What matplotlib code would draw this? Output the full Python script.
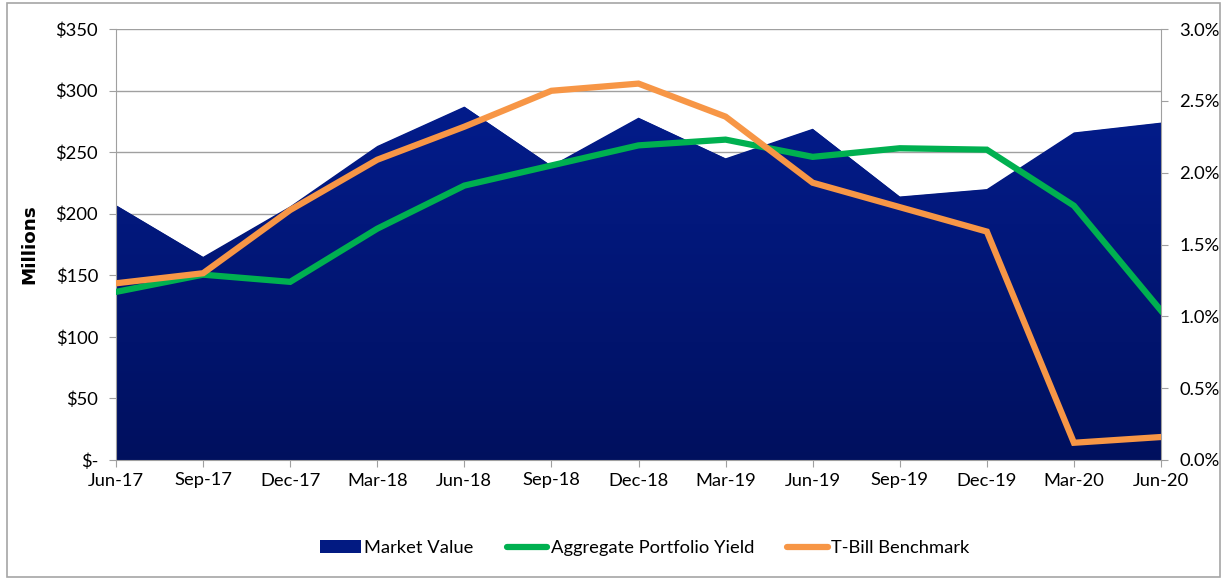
import matplotlib
matplotlib.use("Agg")
import matplotlib.pyplot as plt
import numpy as np
from matplotlib.patches import Rectangle, Patch
from matplotlib.lines import Line2D
from matplotlib.ticker import FuncFormatter, MultipleLocator
from matplotlib.colors import LinearSegmentedColormap

plt.rcParams['font.family'] = ['Lato', 'DejaVu Sans']

quarters = ["Jun-17", "Sep-17", "Dec-17", "Mar-18", "Jun-18", "Sep-18", "Dec-18",
            "Mar-19", "Jun-19", "Sep-19", "Dec-19", "Mar-20", "Jun-20"]
market_value = [207, 165, 206, 255, 287, 239, 278, 245, 269, 214, 220, 266, 274]
portfolio_yield = [1.17, 1.29, 1.24, 1.61, 1.91, 2.05, 2.19, 2.23, 2.11, 2.17, 2.16, 1.77, 1.04]
tbill = [1.23, 1.30, 1.74, 2.09, 2.32, 2.57, 2.62, 2.39, 1.93, 1.76, 1.59, 0.12, 0.16]

NAVY = "#021A82"
GREEN = "#00B050"
ORANGE = "#F79646"
GRID = "#A0A0A0"
FS = 13.2

fig = plt.figure(figsize=(12.28, 5.80), dpi=100)
fig.patches.append(Rectangle((7/1228, 3/580), 1213/1228, 574/580, transform=fig.transFigure,
                             fill=False, edgecolor="#A6A6A6", linewidth=1.2))
ax = fig.add_axes([116/1228, 1-460/580, 1045/1228, 431/580])
x = np.arange(len(quarters))

# gradient fill for market value
poly = ax.fill_between(x, market_value, 0, color=NAVY, linewidth=0, zorder=2)
grad = np.linspace(0, 1, 256).reshape(-1, 1)
cmap = LinearSegmentedColormap.from_list("g", ["#00105E", "#031C8B"])
im = ax.imshow(grad, extent=[0, len(x)-1, 0, max(market_value)], origin="lower",
               aspect="auto", cmap=cmap, zorder=2)
im.set_clip_path(poly.get_paths()[0], transform=ax.transData)

ax.set_xlim(0, len(x)-1)
ax.set_ylim(0, 350)
ax.yaxis.set_major_locator(MultipleLocator(50))
ax.yaxis.set_major_formatter(FuncFormatter(lambda v, p: "$-" if v == 0 else f"${v:.0f}"))
ax.set_xticks(x)
ax.set_xticklabels(quarters)
ax.grid(axis="y", color=GRID, linewidth=1, zorder=0)
ax.set_axisbelow(True)
for s in ["top", "right"]:
    ax.spines[s].set_visible(False)
for s in ["left", "bottom"]:
    ax.spines[s].set_color(GRID)
ax.tick_params(axis="both", direction="out", color=GRID, length=5, labelsize=FS, labelcolor="black")
ax.tick_params(axis="y", pad=8)
ax.tick_params(axis="x", pad=4)
ax.set_ylabel("Millions", fontsize=FS, fontweight="bold", labelpad=12,
              family=["DejaVu Sans"])

ax2 = ax.twinx()
ax2.set_ylim(0, 3.0)
ax2.yaxis.set_major_locator(MultipleLocator(0.5))
ax2.yaxis.set_major_formatter(FuncFormatter(lambda v, p: f"{v:.1f}%"))
for s in ["top", "left", "bottom"]:
    ax2.spines[s].set_visible(False)
ax2.spines["right"].set_color(GRID)
ax2.tick_params(axis="y", direction="out", color=GRID, length=5, labelsize=FS, pad=8)
ax2.plot(x, portfolio_yield, color=GREEN, linewidth=4.5, solid_joinstyle="miter", zorder=3)
ax2.plot(x, tbill, color=ORANGE, linewidth=4.5, solid_joinstyle="miter", zorder=4)

handles = [Patch(facecolor=NAVY, edgecolor="none"),
           Line2D([0], [0], color=GREEN, linewidth=4.5, solid_capstyle="round"),
           Line2D([0], [0], color=ORANGE, linewidth=4.5, solid_capstyle="round")]
labels = ["Market Value", "Aggregate Portfolio Yield", "T-Bill Benchmark"]
fig.legend(handles, labels, loc="center", bbox_to_anchor=(645/1228, 1-548/580), ncol=3,
           frameon=False, fontsize=FS, handlelength=2.2, handletextpad=0.2,
           columnspacing=1.8)

fig.savefig("out.png", dpi=100)
